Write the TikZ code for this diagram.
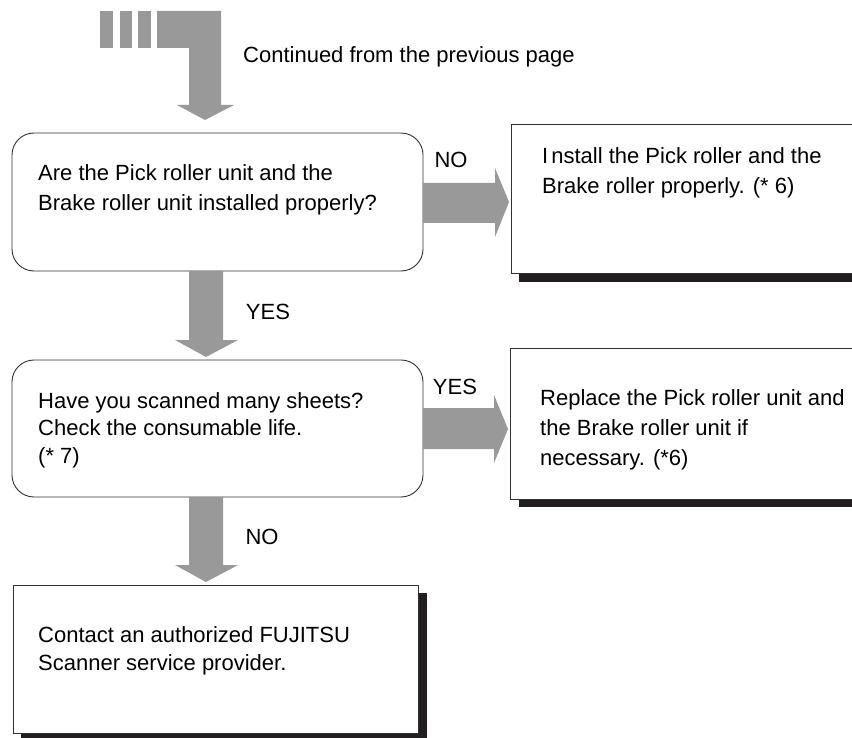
\documentclass[tikz,border=0pt]{standalone}
\usepackage{fontspec}
\setmainfont{Liberation Sans}
\definecolor{arrowgray}{RGB}{153,153,153}
\definecolor{shadowc}{RGB}{35,31,32}
\definecolor{linec}{RGB}{50,50,50}
\tikzset{
  boxline/.style={draw=linec, line width=0.9pt, fill=white},
  shadowbox/.style={fill=shadowc, draw=none},
  blockarrow/.style={fill=arrowgray, draw=none},
  txt/.style={inner sep=0pt, anchor=west, align=left, font=\fontsize{22}{30}\selectfont},
  lbl/.style={inner sep=0pt, font=\fontsize{22}{30}\selectfont}
}
\begin{document}
\begin{tikzpicture}[x=1pt,y=-1pt]
\useasboundingbox (0,0) rectangle (852,738);
\clip (0,0) rectangle (852,738);
% top continuation arrow
\fill[blockarrow] (100,11) rectangle (113,48);
\fill[blockarrow] (120,11) rectangle (132,48);
\fill[blockarrow] (138,11) rectangle (151,48);
\fill[blockarrow] (157,11) -- (221,11) -- (221,105) -- (234,105) -- (205,120) -- (177,105) -- (189,105) -- (189,48) -- (157,48) -- cycle;
\node[lbl, anchor=west] (cont) at (243,57) {Continued from the previous page};
% box 1
\draw[boxline, rounded corners=22pt] (12,133) rectangle (423,271);
\node[txt] (t1) at (38,190) {Are the Pick roller unit and the\\Brake roller unit installed properly?};
% box 2
\fill[shadowbox] (519,273) rectangle (870,282);
\draw[boxline] (511,124) rectangle (870,273);
\node[txt] (t2) at (542,173) {I\hspace{3pt}nstall the Pick roller and the\\Brake roller properly. (* 6)};
% arrow NO right
\fill[blockarrow] (423,183) -- (495,183) -- (495,168) -- (509,202) -- (495,237) -- (495,223) -- (423,223) -- cycle;
\node[lbl] (no1) at (451,160) {NO};
% arrow YES down
\fill[blockarrow] (189,271) -- (223,271) -- (223,340) -- (238,340) -- (206,357) -- (175,340) -- (189,340) -- cycle;
\node[lbl] (yes1) at (268,312) {YES};
% box 3
\draw[boxline, rounded corners=22pt] (12,360) rectangle (423,497);
\node[txt, font=\fontsize{22}{27.5}\selectfont] (t3) at (38,430) {Have you scanned many sheets?\\Check the consumable life.\\(* 7)};
% box 4
\fill[shadowbox] (519,499) rectangle (870,507);
\draw[boxline] (510,348) rectangle (870,499);
\node[txt] (t4) at (540,430) {Replace the Pick roller unit and\\the Brake roller unit if\\necessary. (*6)};
% arrow YES right
\fill[blockarrow] (423,408) -- (494,408) -- (494,395) -- (508,429) -- (494,463) -- (494,449) -- (423,449) -- cycle;
\node[lbl] (yes2) at (455,387) {YES};
% arrow NO down
\fill[blockarrow] (189,497) -- (223,497) -- (223,565) -- (238,565) -- (206,582) -- (175,565) -- (189,565) -- cycle;
\node[lbl] (no2) at (262,537) {NO};
% box 5
\fill[shadowbox] (418,593) rectangle (427,738);
\fill[shadowbox] (21,733) rectangle (427,738);
\draw[boxline] (13,585) rectangle (418,733);
\node[txt, font=\fontsize{22}{27.5}\selectfont] (t5) at (38,651) {Contact an authorized FUJITSU\\Scanner service provider.};
\end{tikzpicture}
\end{document}
